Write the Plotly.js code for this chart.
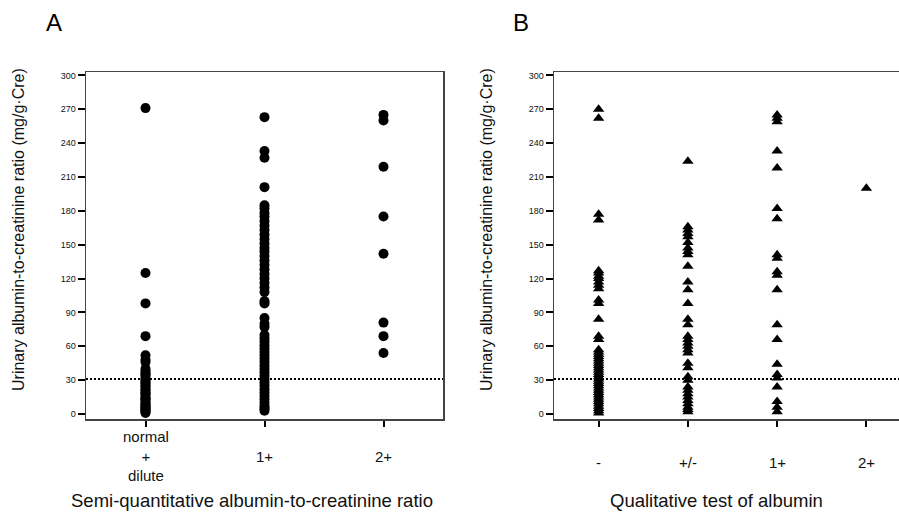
<!DOCTYPE html>
<html><head><meta charset="utf-8">
<script src="https://cdn.plot.ly/plotly-3.0.1.min.js"></script>
<style>html,body{margin:0;padding:0;overflow:hidden;background:#fff}#chart{width:930px;height:515px}</style>
</head><body><div id="chart"></div><script>
// Panel A: semi-quantitative ACR categories
const catsA = ['normal + dilute', '1+', '2+'];
const tickLabelsA = ['normal<br>+<br>dilute', '1+', '2+'];
const valsA_normal = [271, 125, 98, 69, 52, 48, 46, 40, 38, 36, 35, 33, 31, 30, 28, 27, 25, 24, 22, 21, 19, 18, 17, 15, 14, 13, 12, 10, 9, 8, 7, 6, 5, 4, 3, 2, 1];
const valsA_1plus = [263, 233, 227, 201, 185, 182, 178, 175, 171, 167, 163, 159, 155, 151, 147, 144, 140, 136, 132, 128, 124, 120, 116, 112, 108, 100, 98, 85, 80, 77, 70, 67, 64, 61, 58, 55, 52, 49, 46, 43, 40, 37, 34, 31, 28, 25, 22, 19, 16, 13, 10, 7, 5, 3];
const valsA_2plus = [265, 260, 219, 175, 142, 81, 69, 54];

// Panel B: qualitative dipstick albumin
const catsB = ['-', '+/-', '1+', '2+'];
const valsB_neg = [270, 262, 177, 172, 127, 125, 122, 120, 117, 114, 111, 101, 98, 84, 69, 66, 57, 55, 53, 51, 49, 47, 45, 43, 41, 39, 37, 35, 33, 31, 29, 27, 25, 23, 21, 19, 17, 15, 13, 11, 9, 7, 5, 3, 1];
const valsB_pm = [224, 166, 163, 160, 157, 152, 147, 144, 141, 131, 117, 110, 98, 84, 79, 69, 66, 63, 60, 57, 54, 45, 41, 33, 30, 24, 21, 18, 15, 12, 9, 6, 4, 2];
const valsB_1plus = [265, 262, 259, 233, 218, 182, 173, 141, 138, 126, 123, 110, 79, 66, 44, 35, 32, 24, 11, 6, 2];
const valsB_2plus = [200];

const yTicks = [0, 30, 60, 90, 120, 150, 180, 210, 240, 270, 300];
const cutoff = 31;

const W = 930, H = 515;
const px = v => v / W, py = v => 1 - v / H;

function rep(cat, arr) { return arr.map(() => cat); }

const xA = [].concat(rep(catsA[0], valsA_normal), rep(catsA[1], valsA_1plus), rep(catsA[2], valsA_2plus));
const yA = [].concat(valsA_normal, valsA_1plus, valsA_2plus);
const xB = [].concat(rep(catsB[0], valsB_neg), rep(catsB[1], valsB_pm), rep(catsB[2], valsB_1plus), rep(catsB[3], valsB_2plus));
const yB = [].concat(valsB_neg, valsB_pm, valsB_1plus, valsB_2plus);

const traces = [
  {type: 'scatter', mode: 'markers', x: xA, y: yA, xaxis: 'x', yaxis: 'y',
   marker: {symbol: 'circle', size: 10, color: '#000'}, showlegend: false},
  {type: 'scatter', mode: 'markers', x: xB, y: yB, xaxis: 'x2', yaxis: 'y2',
   marker: {symbol: 'triangle-up', size: 10, color: '#000'}, showlegend: false}
];

const fontFam = 'Arial, "Liberation Sans", sans-serif';
const yBase = {
  range: [-4.4, 303], tickvals: yTicks, ticks: 'outside', ticklen: 7, tickwidth: 2, tickcolor: '#000',
  showline: true, linecolor: '#444', linewidth: 1.5, mirror: true, showgrid: false, zeroline: false,
  tickfont: {size: 9, color: '#111', family: fontFam}, domain: [py(419), py(72)]
};
const xBase = {
  type: 'category', ticks: 'outside', ticklen: 6, tickwidth: 2, tickcolor: '#000',
  showline: true, linecolor: '#444', linewidth: 1.5, mirror: true, showgrid: false, zeroline: false,
  showticklabels: false
};

const annotations = [];
annotations.push({text: 'A', x: px(44), y: py(22), xref: 'paper', yref: 'paper', xanchor: 'left', yanchor: 'middle', showarrow: false, font: {size: 24, family: fontFam, color: '#000'}});
annotations.push({text: 'B', x: px(511), y: py(22), xref: 'paper', yref: 'paper', xanchor: 'left', yanchor: 'middle', showarrow: false, font: {size: 24, family: fontFam, color: '#000'}});
catsA.forEach((c, i) => annotations.push({text: tickLabelsA[i], x: c, xref: 'x', y: py(456), yref: 'paper', yanchor: 'middle', showarrow: false, font: {size: 15, family: fontFam, color: '#111'}}));
catsB.forEach((c, i) => annotations.push({text: c, x: c, xref: 'x2', y: py(462), yref: 'paper', yanchor: 'middle', showarrow: false, font: {size: 15, family: fontFam, color: '#111'}}));
annotations.push({text: 'Semi-quantitative albumin-to-creatinine ratio', x: px(252), y: py(500), xref: 'paper', yref: 'paper', xanchor: 'center', yanchor: 'middle', showarrow: false, font: {size: 18.5, family: fontFam, color: '#111'}});
annotations.push({text: 'Qualitative test of albumin', x: px(716), y: py(500), xref: 'paper', yref: 'paper', xanchor: 'center', yanchor: 'middle', showarrow: false, font: {size: 18.5, family: fontFam, color: '#111'}});
const yTitle = 'Urinary albumin-to-creatinine ratio (mg/g·Cre)';
annotations.push({text: yTitle, x: px(18), y: py(230), xref: 'paper', yref: 'paper', xanchor: 'center', yanchor: 'middle', textangle: -90, showarrow: false, font: {size: 16, family: fontFam, color: '#111'}});
annotations.push({text: yTitle, x: px(486), y: py(230), xref: 'paper', yref: 'paper', xanchor: 'center', yanchor: 'middle', textangle: -90, showarrow: false, font: {size: 16, family: fontFam, color: '#111'}});

const dotted = (xr, yr) => ({type: 'line', xref: xr + ' domain', x0: 0, x1: 1, yref: yr, y0: cutoff, y1: cutoff, line: {color: '#000', width: 2, dash: '2px,2px'}});

const layout = {
  width: W, height: H, margin: {l: 0, r: 0, t: 0, b: 0},
  paper_bgcolor: '#fff', plot_bgcolor: '#fff', font: {family: fontFam},
  xaxis: Object.assign({}, xBase, {domain: [px(86), px(443)], range: [-0.5, 2.5], anchor: 'y', tickvals: catsA}),
  yaxis: Object.assign({}, yBase, {anchor: 'x'}),
  xaxis2: Object.assign({}, xBase, {domain: [px(554), px(911)], range: [-0.5, 3.5], anchor: 'y2', tickvals: catsB}),
  yaxis2: Object.assign({}, yBase, {anchor: 'x2'}),
  shapes: [dotted('x', 'y'), dotted('x2', 'y2')],
  annotations: annotations
};

Plotly.newPlot('chart', traces, layout, {staticPlot: true, displayModeBar: false});
</script></body></html>
